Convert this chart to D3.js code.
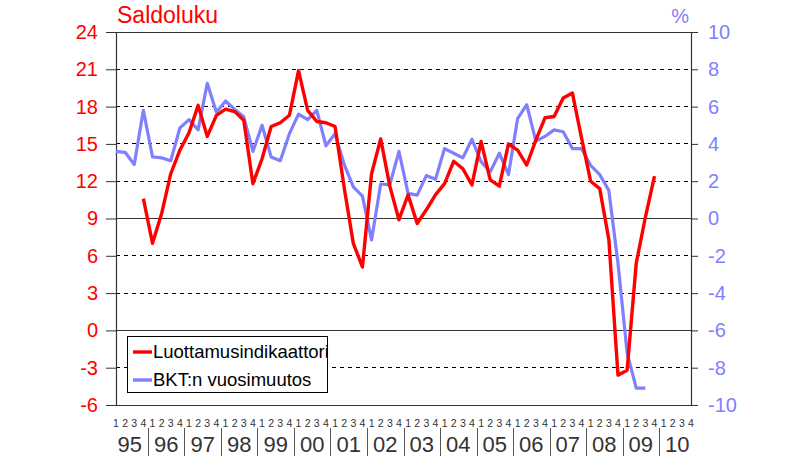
<!DOCTYPE html>
<html><head><meta charset="utf-8">
<script src="https://cdn.jsdelivr.net/npm/d3@7/dist/d3.min.js"></script>
<style>body{margin:0;background:#fff}svg{display:block;font-family:"Liberation Sans",Arial,sans-serif}</style>
</head><body><svg id="c" width="806" height="465"></svg>
<script>
const years = ["95","96","97","98","99","00","01","02","03","04","05","06","07","08","09","10"];
const quarterLabels = ["1","2","3","4"];
const leftTicks = [-6,-3,0,3,6,9,12,15,18,21,24];
const rightTicks = [-10,-8,-6,-4,-2,0,2,4,6,8,10];
const seriesNames = ["Luottamusindikaattori","BKT:n vuosimuutos"];
// Luottamusindikaattori (saldoluku), quarterly 1995Q1..2010Q4
const confidence = [null,null,null,10.6, 7.0,9.4,12.6,14.5, 15.9,18.1,15.6,17.3, 17.8,17.6,16.9,11.8,
  13.8,16.4,16.7,17.3, 20.9,17.7,16.8,16.7, 16.4,11.5,7.0,5.1, 12.6,15.4,11.6,8.9,
  10.9,8.6,9.7,10.9, 11.8,13.6,13.0,11.7, 15.2,12.1,11.6,15.0, 14.5,13.3,15.3,17.1,
  17.2,18.7,19.1,15.5, 12.0,11.4,7.3,-3.6, -3.2,5.4,9.1,12.4, null,null,null,null];
// BKT:n vuosimuutos (%), quarterly
const gdp = [3.6,3.55,2.9,5.8, 3.3,3.25,3.1,4.85, 5.3,4.75,7.25,5.7, 6.3,5.85,5.45,3.6,
  5.0,3.3,3.1,4.55, 5.6,5.3,5.8,3.9, 4.55,2.9,1.7,1.2, -1.15,1.85,1.8,3.6,
  1.35,1.25,2.3,2.1, 3.75,3.5,3.25,4.25, 3.05,2.5,3.5,2.35, 5.35,6.1,4.15,4.4,
  4.75,4.65,3.75,3.75, 2.85,2.35,1.5,-2.4, -7.2,-9.1,-9.1,null, null,null,null,null];

const svg = d3.select("#c");
const L = 116, R = 691, T = 32, B = 405;
const n = years.length * 4;
const x = d3.scaleLinear().domain([0, n - 1]).range([L, R]);
const yL = d3.scaleLinear().domain([-6, 24]).range([B, T]);
const yR = d3.scaleLinear().domain([-10, 10]).range([B, T]);
const red = "#ff0000", blue = "#8080ff", axisCol = "#333";
const fmt = d => String(d);

// gridlines
const g = svg.append("g");
leftTicks.forEach(t => {
  const solid = (t === 0 || t === 9 || t === 24 || t === -6);
  g.append("line").attr("x1", L).attr("x2", R).attr("y1", yL(t)).attr("y2", yL(t))
    .attr("stroke", solid ? axisCol : "#000").attr("stroke-width", 1)
    .attr("stroke-dasharray", solid ? null : "4,4").attr("shape-rendering", "crispEdges");
});
// axes
const axL = d3.axisLeft(yL).tickValues(leftTicks).tickSize(10).tickFormat(fmt);
const gl = svg.append("g").attr("transform", `translate(${L},0)`).call(axL);
gl.select(".domain").attr("stroke", axisCol);
gl.selectAll(".tick line").attr("stroke", axisCol);
gl.selectAll(".tick text").attr("fill", red).attr("font-size", 20).attr("x", -18)
  .attr("font-family", "Liberation Sans, Arial, sans-serif");
const axR = d3.axisRight(yR).tickValues(rightTicks).tickSize(7).tickFormat(fmt);
const gr = svg.append("g").attr("transform", `translate(${R},0)`).call(axR);
gr.select(".domain").attr("stroke", axisCol);
gr.selectAll(".tick line").attr("stroke", axisCol);
gr.selectAll(".tick text").attr("fill", blue).attr("font-size", 20).attr("x", 17)
  .attr("font-family", "Liberation Sans, Arial, sans-serif");
svg.selectAll(".domain").attr("stroke-width", 1.2);

// titles
svg.append("text").attr("x", 117).attr("y", 23).attr("fill", red).attr("font-size", 23).text("Saldoluku");
svg.append("text").attr("x", 689).attr("y", 23).attr("text-anchor", "end").attr("fill", blue).attr("font-size", 20).text("%");

// category labels
const idx = d3.range(n);
svg.append("g").selectAll("text").data(idx).join("text")
  .attr("x", d => x(d)).attr("y", 427).attr("text-anchor", "middle")
  .attr("font-size", 10.5).attr("fill", axisCol).text(d => quarterLabels[d % 4]);
svg.append("g").selectAll("text").data(years).join("text")
  .attr("x", (d, i) => (x(i * 4) + x(i * 4 + 3)) / 2).attr("y", 452).attr("text-anchor", "middle")
  .attr("font-size", 22).attr("fill", axisCol).text(d => d);
svg.append("g").selectAll("line").data(years.slice(1)).join("line")
  .attr("x1", (d, i) => Math.round((x(i * 4 + 3) + x(i * 4 + 4)) / 2) + 0.5)
  .attr("x2", (d, i) => Math.round((x(i * 4 + 3) + x(i * 4 + 4)) / 2) + 0.5)
  .attr("y1", 428).attr("y2", 456).attr("stroke", "#555").attr("stroke-width", 1);

// series
const lineL = d3.line().defined(d => d != null).x((d, i) => x(i)).y(d => yL(d));
const lineR = d3.line().defined(d => d != null).x((d, i) => x(i)).y(d => yR(d));
svg.append("path").attr("d", lineR(gdp)).attr("fill", "none").attr("stroke", blue)
  .attr("stroke-width", 3.2).attr("stroke-linejoin", "round");
svg.append("path").attr("d", lineL(confidence)).attr("fill", "none").attr("stroke", red)
  .attr("stroke-width", 3.4).attr("stroke-linejoin", "round");

// legend
const lg = svg.append("g");
lg.append("rect").attr("x", 127.5).attr("y", 336.5).attr("width", 200).attr("height", 56)
  .attr("fill", "#fff").attr("stroke", "#000").attr("stroke-width", 1);
[[red, seriesNames[0], 352], [blue, seriesNames[1], 380]].forEach(([c, t, yy]) => {
  lg.append("line").attr("x1", 133).attr("x2", 152).attr("y1", yy).attr("y2", yy)
    .attr("stroke", c).attr("stroke-width", 3.4);
  lg.append("text").attr("x", 153).attr("y", yy).attr("dy", "0.35em").attr("font-size", 18.5)
    .attr("fill", "#000").text(t);
});
</script></body></html>
